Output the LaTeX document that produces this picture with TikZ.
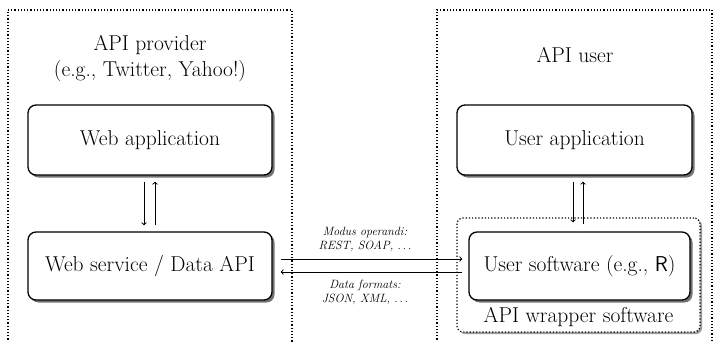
\documentclass[tikz,border=0pt]{standalone}
\usetikzlibrary{shadows}
\begin{document}
\begin{tikzpicture}[x=1pt,y=1pt,
  frame/.style={draw, dotted, line width=1.2pt},
  box/.style={draw, line width=1.3pt, rounded corners=8pt, fill=white,
    drop shadow={shadow xshift=2.5pt, shadow yshift=-2.5pt, fill=black!55, opacity=1}},
  big/.style={font=\fontsize{21.5}{26}\selectfont},
  small/.style={font=\fontsize{12}{14}\selectfont\itshape},
  arr/.style={->, line width=1pt}]
\useasboundingbox (0,0) rectangle (716,341);
% frames
\draw[frame] (8,331) -- (292,331) -- (292,-5);
\draw[frame] (8,-5) -- (8,331);
\draw[frame] (437,-5) -- (437,331) -- (712,331) -- (712,-5);
% titles
\node[big, align=center] (prov) at (150,282) {API provider\\(e.g., Twitter, Yahoo!)};
\node[big] (user) at (575,286) {API user};
% wrapper
\node[draw, dotted, line width=1.2pt, rounded corners=6pt,
  drop shadow={shadow xshift=2pt, shadow yshift=-2pt, fill=black!40, opacity=1},
  fill=white, minimum width=243pt, minimum height=114pt] (wrap) at (578.5,66) {};
\node[big, anchor=south] (wraplbl) at (578.5,11) {API wrapper software};
% boxes
\node[box, big, minimum width=244pt, minimum height=70pt] (webapp) at (150,201) {Web application};
\node[box, big, minimum width=244pt, minimum height=68pt] (websvc) at (150,75) {Web service / Data API};
\node[box, big, minimum width=235pt, minimum height=70pt] (userapp) at (574.5,201) {User application};
\node[box, big, minimum width=221pt, minimum height=68pt] (usersw) at (579.5,75) {User software (e.g., \textsf{R})};
% vertical arrows
\draw[arr] ([xshift=-6pt,yshift=-6pt]webapp.south) -- ([xshift=-6pt,yshift=6pt]websvc.north);
\draw[arr] ([xshift=5pt,yshift=6pt]websvc.north) -- ([xshift=5pt,yshift=-6pt]webapp.south);
\coordinate (ud) at ([xshift=-1.5pt,yshift=-6pt]userapp.south);
\coordinate (uu) at ([xshift=8.5pt,yshift=-6pt]userapp.south);
\draw[arr] (ud) -- ([yshift=-5pt]ud |- wrap.north);
\draw[arr] ([yshift=-7pt]uu |- wrap.north) -- (uu);
% horizontal arrows
\draw[arr] ([xshift=8pt,yshift=7pt]websvc.east) -- ([xshift=-6pt,yshift=7pt]usersw.west);
\draw[arr] ([xshift=-6pt,yshift=-6pt]usersw.west) -- ([xshift=8pt,yshift=-6pt]websvc.east);
% labels
\node[small, align=center] (modus) at (365,102) {Modus operandi:\\REST, SOAP, $\ldots$};
\node[small, align=center] (data) at (365,49) {Data formats:\\JSON, XML, $\ldots$};
\end{tikzpicture}
\end{document}
